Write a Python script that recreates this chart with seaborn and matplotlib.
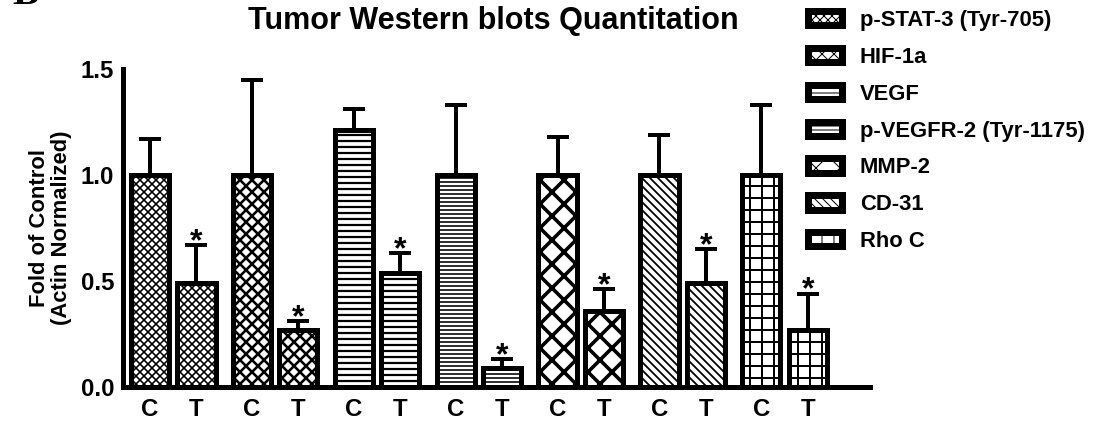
import matplotlib
matplotlib.use("Agg")
import matplotlib.pyplot as plt
import seaborn as sns
import pandas as pd
from matplotlib.patches import Patch

# Western blot densitometry, fold of control (actin normalized), mean and SEM
markers = ["p-STAT-3 (Tyr-705)", "HIF-1a", "VEGF", "p-VEGFR-2 (Tyr-1175)",
           "MMP-2", "CD-31", "Rho C"]
groups = ["C", "T"]
control_mean = [1.00, 1.00, 1.21, 1.00, 1.00, 1.00, 1.00]
control_sem = [0.17, 0.45, 0.10, 0.33, 0.18, 0.19, 0.33]
treated_mean = [0.49, 0.27, 0.54, 0.09, 0.36, 0.49, 0.27]
treated_sem = [0.18, 0.04, 0.09, 0.04, 0.10, 0.16, 0.17]
treated_significant = [True, True, True, True, True, True, True]
y_ticks = [0.0, 0.5, 1.0, 1.5]
y_tick_labels = ["0.0", "0.5", "1.0", "1.5"]

# hatch pattern and hatch line width per marker
hatches = ["xxx", "xx", "--", "---", "x", "\\\\\\", "+"]
hatch_widths = [1.6, 2.6, 2.2, 1.6, 3.6, 1.8, 2.0]

rows = []
for i, m in enumerate(markers):
    rows.append({"marker": m, "group": "C", "value": control_mean[i]})
    rows.append({"marker": m, "group": "T", "value": treated_mean[i]})
df = pd.DataFrame(rows)

sns.set_style("white")
plt.rcParams["font.family"] = ["Liberation Sans", "DejaVu Sans"]
plt.rcParams["font.weight"] = "bold"
plt.rcParams["axes.labelweight"] = "bold"
for key in ("text.color", "axes.labelcolor", "xtick.color", "ytick.color",
            "axes.edgecolor"):
    plt.rcParams[key] = "black"

DPI = 72
fig = plt.figure(figsize=(1098 / DPI, 421 / DPI), dpi=DPI)
ax = fig.add_axes([123 / 1098, 1 - 387 / 421, (870 - 123) / 1098, (387 - 69) / 421])

sns.barplot(data=df, x="marker", y="value", hue="group", order=markers,
            hue_order=groups, palette={"C": "white", "T": "white"},
            width=0.913, gap=0.18, edgecolor="black", linewidth=5,
            legend=False, ax=ax, zorder=3)

bars = sorted([p for p in ax.patches if p.get_height() > 0], key=lambda p: p.get_x())
centers = []
for j, bar in enumerate(bars):
    i, g = divmod(j, 2)
    bar.set_hatch(hatches[i])
    if hasattr(bar, "set_hatch_linewidth"):
        bar.set_hatch_linewidth(hatch_widths[i])
    cx = bar.get_x() + bar.get_width() / 2
    centers.append(cx)
    mean = control_mean[i] if g == 0 else treated_mean[i]
    sem = control_sem[i] if g == 0 else treated_sem[i]
    ax.errorbar(cx, mean, yerr=[[0], [sem]], fmt="none", ecolor="black",
                elinewidth=4, capsize=11, capthick=4, zorder=2)
    if g == 1 and treated_significant[i]:
        ax.annotate("*", (cx, mean + sem), xytext=(0, -5),
                    textcoords="offset points", ha="center", va="baseline",
                    fontsize=32, fontweight="bold", color="black")

ax.set_xlim(-0.493, 6.838)
ax.set_ylim(0, 1.5)
ax.set_xticks(centers)
ax.set_xticklabels(groups * len(markers))
ax.set_yticks(y_ticks)
ax.set_yticklabels(y_tick_labels)
ax.set_xlabel("")
ax.set_ylabel("Fold of Control\n(Actin Normalized)", fontsize=22,
              fontweight="bold", labelpad=9, linespacing=1.0, color="black")

for side in ("top", "right"):
    ax.spines[side].set_visible(False)
for side in ("left", "bottom"):
    ax.spines[side].set_linewidth(5)
    ax.spines[side].set_color("black")
ax.tick_params(axis="y", direction="out", length=8, width=5,
               colors="black", labelsize=24, pad=1)
ax.tick_params(axis="x", direction="out", length=8, width=5,
               colors="black", labelsize=24, pad=3)
for lab in ax.get_xticklabels() + ax.get_yticklabels():
    lab.set_fontweight("bold")

fig.text(493 / 1098, 1 - 21 / 421, "Tumor Western blots Quantitation",
         ha="center", va="center", fontsize=30.5, fontweight="bold", color="black")
fig.text(12 / 1098, 1 - 4.5 / 421, "B", ha="left", va="baseline",
         fontsize=40, fontweight="bold", color="black",
         family=["Liberation Serif", "DejaVu Serif"])

handles = [Patch(facecolor="white", edgecolor="black", hatch=h, linewidth=7)
           for h in hatches]
leg = fig.legend(handles, markers, loc="upper left",
                 bbox_to_anchor=(808 / 1098, 1 - 10 / 421), frameon=False,
                 fontsize=22, handlelength=1.55, handleheight=0.62,
                 handletextpad=0.8, labelspacing=0.72, borderpad=0,
                 borderaxespad=0)
for t in leg.get_texts():
    t.set_fontweight("bold")
    t.set_color("black")

fig.savefig("out.png", dpi=DPI)
